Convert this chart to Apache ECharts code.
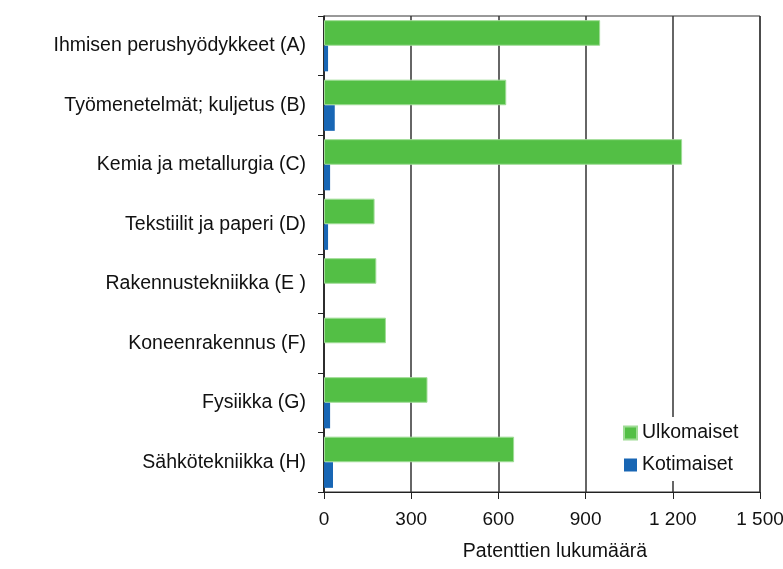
<!DOCTYPE html>
<html>
<head>
<meta charset="utf-8">
<script src="https://cdn.jsdelivr.net/npm/echarts@6/dist/echarts.min.js"></script>
<style>
html,body{margin:0;padding:0;background:#fff;}
#chart{width:783px;height:569px;}
</style>
</head>
<body>
<div id="chart"></div>
<script>
var categories = [
  'Ihmisen perushyödykkeet (A)',
  'Työmenetelmät; kuljetus (B)',
  'Kemia ja metallurgia (C)',
  'Tekstiilit ja paperi (D)',
  'Rakennustekniikka (E )',
  'Koneenrakennus (F)',
  'Fysiikka (G)',
  'Sähkötekniikka (H)'
];
var seriesNames = ['Ulkomaiset', 'Kotimaiset'];
var ulkomaiset = [950, 627, 1232, 174, 180, 213, 356, 654];
var kotimaiset = [14, 37, 21, 14, 0, 0, 21, 31];
var xTicks = [0, 300, 600, 900, 1200, 1500];

var FONT = '"Liberation Sans", Arial, sans-serif';
var chart = echarts.init(document.getElementById('chart'), null, {renderer: 'canvas'});

function fmt(v) {
  return String(v).replace(/\B(?=(\d{3})+(?!\d))/g, ' ');
}

chart.setOption({
  animation: false,
  backgroundColor: '#ffffff',
  textStyle: {fontFamily: FONT},
  grid: {
    left: 324, right: 23, top: 16, bottom: 77,
    outerBoundsMode: 'none',
    containLabel: false,
    show: true, borderColor: '#333', borderWidth: 1, backgroundColor: 'transparent'
  },
  legend: {
    data: seriesNames,
    orient: 'vertical',
    left: 615, top: 417,
    padding: [6, 8, 6, 8],
    backgroundColor: '#ffffff',
    itemWidth: 13, itemHeight: 13, itemGap: 12,
    icon: 'rect',
    textStyle: {fontFamily: FONT, fontSize: 19.5, color: '#111'}
  },
  xAxis: {
    type: 'value',
    min: xTicks[0], max: xTicks[xTicks.length - 1], interval: 300,
    name: 'Patenttien lukumäärä',
    nameLocation: 'middle',
    nameGap: 50,
    nameTextStyle: {fontFamily: FONT, fontSize: 19.5, color: '#111', padding: [0, 0, 0, 26]},
    axisLine: {show: true, lineStyle: {color: '#222', width: 1}},
    axisTick: {show: true, length: 7, lineStyle: {color: '#222'}},
    axisLabel: {fontFamily: FONT, fontSize: 19, color: '#111', margin: 18, formatter: fmt},
    splitLine: {show: true, lineStyle: {color: '#333', width: 1.5}}
  },
  yAxis: {
    type: 'category',
    data: categories,
    inverse: true,
    axisLine: {show: true, lineStyle: {color: '#222', width: 1.5}},
    axisTick: {show: true, length: 6, lineStyle: {color: '#222'}},
    axisLabel: {fontFamily: FONT, fontSize: 19.5, color: '#111', margin: 18},
    splitLine: {show: false}
  },
  series: [
    {
      name: seriesNames[0], type: 'bar', data: ulkomaiset,
      barGap: '0%', barCategoryGap: '14%',
      itemStyle: {color: '#53bf45', borderColor: '#9fdc95', borderWidth: 1}
    },
    {
      name: seriesNames[1], type: 'bar', data: kotimaiset,
      barGap: '0%', barCategoryGap: '14%',
      itemStyle: {color: '#1866b4'}
    }
  ]
});
</script>
</body>
</html>
